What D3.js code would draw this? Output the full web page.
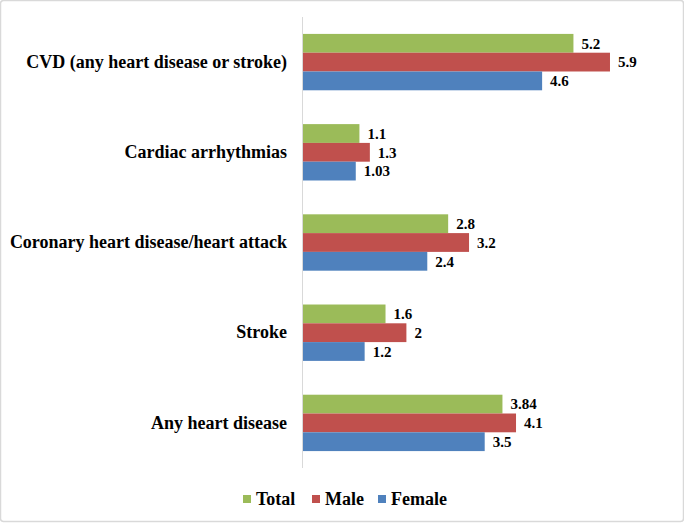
<!DOCTYPE html>
<html><head><meta charset="utf-8">
<script src="https://cdn.jsdelivr.net/npm/d3@7"></script>
<style>body{margin:0;background:#fff}svg{display:block}</style>
</head><body>
<svg id="c" width="684" height="524"></svg>
<script>
const categories = ["CVD (any heart disease or stroke)", "Cardiac arrhythmias", "Coronary heart disease/heart attack", "Stroke", "Any heart disease"];
const seriesNames = ["Total", "Male", "Female"];
const total = [5.2, 1.1, 2.8, 1.6, 3.84];
const male = [5.9, 1.3, 3.2, 2, 4.1];
const female = [4.6, 1.03, 2.4, 1.2, 3.5];
const labelTotal = ["5.2", "1.1", "2.8", "1.6", "3.84"];
const labelMale = ["5.9", "1.3", "3.2", "2", "4.1"];
const labelFemale = ["4.6", "1.03", "2.4", "1.2", "3.5"];
const colors = ["#9BBB59", "#C0504D", "#4F81BD"];

const svg = d3.select("#c");
const font = "'Liberation Serif','Times New Roman',serif";
svg.append("rect").attr("x",0.5).attr("y",0.5).attr("width",683).attr("height",521)
  .attr("fill","#fff").attr("stroke","#d9d9d9").attr("stroke-width",1.5).attr("rx",3);

const x = d3.scaleLinear().domain([0,7]).range([302, 302+52.2*7]);
const y = d3.scaleBand().domain(categories).range([17,468]).paddingInner(0.375).paddingOuter(0.1875);
const ys = d3.scaleBand().domain(seriesNames).range([0,y.bandwidth()]);

const series = [
  {name:"Total", values: total, labels: labelTotal},
  {name:"Male", values: male, labels: labelMale},
  {name:"Female", values: female, labels: labelFemale}
];

series.forEach((s,si)=>{
  const g = svg.append("g");
  g.selectAll("rect").data(categories).join("rect")
    .attr("x", x(0)).attr("y", c=>y(c)+ys(s.name))
    .attr("width", (c,i)=>x(s.values[i])-x(0)).attr("height", ys.bandwidth())
    .attr("fill", colors[si]);
  g.selectAll("text").data(categories).join("text")
    .attr("x", (c,i)=>x(s.values[i])+8).attr("y", c=>y(c)+ys(s.name)+ys.bandwidth()/2)
    .attr("dy","0.35em").attr("font-family",font).attr("font-weight","bold").attr("font-size",15)
    .attr("fill","#000").text((c,i)=>s.labels[i]);
});

// axis
const yAxis = d3.axisLeft(y).tickSize(0).tickPadding(15);
const ag = svg.append("g").attr("transform",`translate(${x(0)},0)`).call(yAxis);
ag.select(".domain").attr("stroke","#d9d9d9").attr("d","M0.5,17V468");
ag.selectAll("text").attr("font-family",font).attr("font-weight","bold").attr("font-size",18).attr("fill","#000");

// legend
const legendX = [243, 312, 378];
const lg = svg.append("g");
seriesNames.forEach((n,i)=>{
  lg.append("rect").attr("x",legendX[i]).attr("y",495).attr("width",8).attr("height",8).attr("fill",colors[i]);
  lg.append("text").attr("x",legendX[i]+13).attr("y",499).attr("dy","0.35em")
    .attr("font-family",font).attr("font-weight","bold").attr("font-size",18).text(n);
});
</script>
</body></html>
